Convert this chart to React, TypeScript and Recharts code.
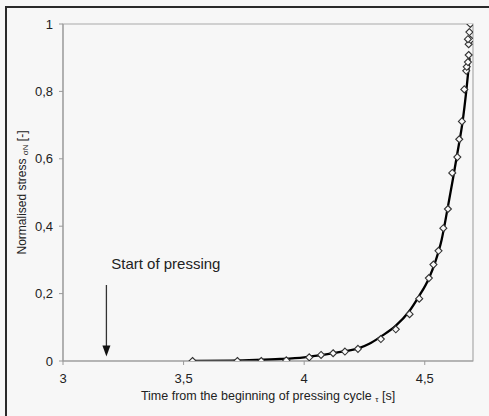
import React from 'react'
import {
  ComposedChart, Line, Scatter, XAxis, YAxis, ReferenceArea, ReferenceLine, ReferenceDot, Label,
} from 'recharts'

// measured points (diamonds)
const pointTime = [3.537, 3.723, 3.822, 3.926, 4.021, 4.07, 4.12, 4.169, 4.223, 4.318, 4.38, 4.437, 4.477, 4.517, 4.536, 4.557, 4.577, 4.596, 4.614, 4.635, 4.643, 4.654, 4.664, 4.672, 4.674, 4.679, 4.682, 4.682, 4.69, 4.679, 4.685, 4.689]
const pointStress = [0, 0, 0, 0.002, 0.011, 0.018, 0.023, 0.028, 0.036, 0.065, 0.094, 0.139, 0.185, 0.246, 0.286, 0.327, 0.394, 0.451, 0.558, 0.605, 0.658, 0.711, 0.806, 0.861, 0.873, 0.887, 0.908, 0.94, 0.953, 0.955, 0.976, 1.0]

// fitted curve
const curveTime = [3.54, 3.7, 3.8, 3.9, 4.0, 4.103, 4.17, 4.227, 4.27, 4.317, 4.379, 4.434, 4.475, 4.517, 4.544, 4.57, 4.594, 4.616, 4.636, 4.657, 4.672, 4.686]
const curveStress = [0, 0.001, 0.003, 0.006, 0.011, 0.021, 0.029, 0.038, 0.051, 0.072, 0.104, 0.146, 0.191, 0.245, 0.295, 0.36, 0.45, 0.537, 0.62, 0.711, 0.8, 0.899]

const xTicks = [3, 3.5, 4, 4.5]
const yTicks = [0, 0.2, 0.4, 0.6, 0.8, 1]

const points = pointTime.map((x, i) => ({ x, y: pointStress[i] }))
const curve = curveTime.map((x, i) => ({ x, y: curveStress[i] }))

const FONT = '"Liberation Sans", Arial, sans-serif'
const comma = (v: number) => String(v).replace('.', ',')

const Diamond = (p: any) => {
  const { cx, cy } = p
  const r = 3.5
  return (
    <polygon
      points={`${cx},${cy - r} ${cx + r},${cy} ${cx},${cy + r} ${cx - r},${cy}`}
      fill="#fafafa" stroke="#333" strokeWidth={1.1}
    />
  )
}

const Arrow = (p: any) => {
  const { x1, y1, x2, y2 } = p
  const top = Math.min(y1, y2)
  const tip = Math.max(y1, y2)
  return (
    <g>
      <line x1={x1} y1={top} x2={x2} y2={tip - 9} stroke="#333" strokeWidth={1.3} />
      <polygon points={`${x2 - 4},${tip - 11} ${x2 + 4},${tip - 11} ${x2},${tip}`} fill="#111" />
    </g>
  )
}

const YLabel = (p: any) => {
  const { x, y, height } = p.viewBox
  const cx = x + 22
  const cy = y + height / 2
  return (
    <text x={cx} y={cy} transform={`rotate(-90 ${cx} ${cy})`} textAnchor="middle"
      fontFamily={FONT} fontSize={12} fill="#222" dominantBaseline="central">
      Normalised stress <tspan fontSize={8} dy={3}>σN</tspan><tspan dy={-3}> [-]</tspan>
    </text>
  )
}

const XLabel = (p: any) => {
  const { x, y, width } = p.viewBox
  return (
    <text x={x + width / 2} y={y + 39} textAnchor="middle" fontFamily={FONT} fontSize={12.5} fill="#222">
      Time from the beginning of pressing cycle <tspan fontSize={8} dy={2}>τ</tspan><tspan dy={-2}> [s]</tspan>
    </text>
  )
}

export default function App() {
  return (
    <div style={{ position: 'relative', width: 489, height: 416, background: '#f7f7f7', overflow: 'hidden' }}>
      <style>{'body{margin:0}'}</style>
      <div style={{
        position: 'absolute', left: 5, top: 6, width: 500, height: 420,
        borderLeft: '2px solid #2a2a2a', borderTop: '2px solid #2a2a2a',
      }} />
      <ComposedChart width={489} height={416} margin={{ top: 24, right: 16, bottom: 0, left: 0 }}
        style={{ position: 'absolute', left: 0, top: 0 }}>
        <XAxis type="number" dataKey="x" domain={[3, 4.7]} ticks={xTicks} allowDataOverflow
          tickFormatter={comma} height={55} tickSize={4} tickMargin={9}
          stroke="#999" tick={{ fill: '#222', fontSize: 13, fontFamily: FONT }}>
          <Label content={XLabel} />
        </XAxis>
        <YAxis type="number" dataKey="y" domain={[0, 1]} ticks={yTicks} allowDataOverflow
          tickFormatter={comma} width={63} tickSize={4} tickMargin={6}
          stroke="#999" tick={{ fill: '#222', fontSize: 13, fontFamily: FONT }}>
          <Label content={YLabel} />
        </YAxis>
        <ReferenceArea x1={3} x2={4.7} y1={0} y2={1} fill="none" stroke="#aaa" strokeWidth={1.2} />
        <ReferenceLine segment={[{ x: 3.18, y: 0.2255 }, { x: 3.18, y: 0.013 }]} shape={Arrow} />
        <ReferenceDot x={3.2} y={0.29} r={0}
          shape={(p: any) => (
            <text x={p.cx} y={p.cy} dominantBaseline="central" fontFamily={FONT} fontSize={15} fill="#222">
              Start of pressing
            </text>
          )} />
        <Line data={curve} dataKey="y" type="monotone" stroke="#000" strokeWidth={2.3}
          dot={false} isAnimationActive={false} />
        <Scatter data={points} dataKey="y" shape={Diamond} isAnimationActive={false} />
      </ComposedChart>
    </div>
  )
}
